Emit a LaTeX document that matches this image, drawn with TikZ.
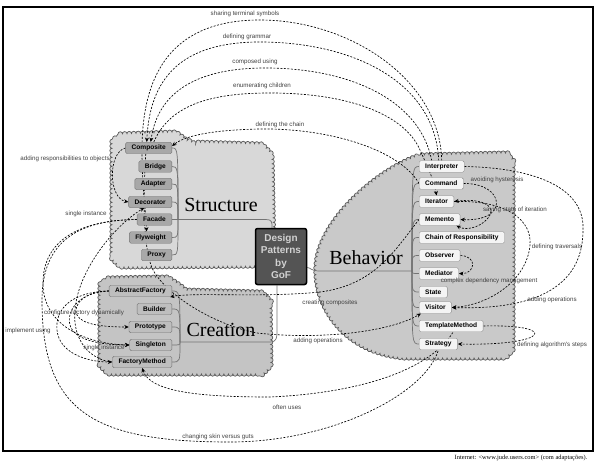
\documentclass[tikz,border=0pt]{standalone}
\usepackage{fontspec}
\setmainfont{Liberation Serif}
\newfontfamily\lsans{Liberation Sans}
\usetikzlibrary{arrows.meta,decorations.pathmorphing}
\pgfdeclarelayer{bg}
\pgfdeclarelayer{mid}
\pgfsetlayers{bg,mid,main}
\definecolor{cloudS}{HTML}{D8D8D8}
\definecolor{cloudC}{HTML}{C4C4C4}
\definecolor{cloudB}{HTML}{C9C9C9}
\definecolor{boxS}{HTML}{A8A8A8}
\definecolor{boxC}{HTML}{BEBEBE}
\definecolor{boxB}{HTML}{F4F4F4}
\begin{document}
\begin{tikzpicture}[x=1pt,y=-1pt,
  conn/.style={draw=black,line width=0.65pt,dash pattern=on 2pt off 1.5pt},
  tip/.style={-{Stealth[length=4.5pt,width=4pt]}},
  rtip/.style={{Stealth[length=4.5pt,width=4pt]}-},
  btip/.style={{Stealth[length=4.5pt,width=4pt]}-{Stealth[length=4.5pt,width=4pt]}},
  trunk/.style={draw=black!55,line width=0.7pt},
  cloudy/.style={draw=black!65,line width=0.7pt,decorate,decoration={bumps,segment length=9pt,amplitude=2.2pt}},
  sbox/.style={draw=black!55,fill=boxS,rounded corners=1.5pt,font=\lsans\bfseries\fontsize{6.6}{7}\selectfont,inner xsep=6pt,inner ysep=1pt,minimum height=11.5pt},
  cbox/.style={sbox,fill=boxC},
  bbox/.style={sbox,fill=boxB,draw=black!45},
  lab/.style={font=\lsans\fontsize{6.2}{7}\selectfont,text=black!75,inner sep=0pt},
  big/.style={font=\fontsize{20}{22}\selectfont,inner sep=0pt},
  gofbox/.style={draw=black,line width=1.5pt,fill=black!67,rounded corners=2pt,minimum width=51pt,minimum height=56pt,align=center,text=black!18,font=\lsans\bfseries\fontsize{10}{12.6}\selectfont,inner sep=1pt}
]
\useasboundingbox (0,0) rectangle (599,465);
\begin{pgfonlayer}{bg}
\draw[line width=1.1pt] (3,7) rectangle (593,451);
\path[cloudy,fill=cloudS] (118,134) -- (176,132) -- (184,138) -- (192,142) -- (262,144) -- (272,154) -- (274,258) -- (266,266) -- (120,267) -- (112,259) -- (112,142) -- cycle;
\path[cloudy,fill=cloudC] (106,278) -- (168,277) -- (180,285) -- (186,290) -- (262,292) -- (270,300) -- (271,366) -- (263,374) -- (108,374) -- (100,366) -- (100,286) -- cycle;
\path[cloudy,fill=cloudB] (420,155) -- (506,153) -- (513,160) -- (513,350) -- (506,358) -- (405,358) .. controls (335,352) and (310,295) .. (317,258) .. controls (325,215) and (380,168) .. (420,155) -- cycle;
\end{pgfonlayer}

% Structure boxes
\node[sbox,anchor=east] (comp) at (172,148) {Composite};
\node[sbox,anchor=east] (bridge) at (172,166.5) {Bridge};
\node[sbox,anchor=east] (adapt) at (172,184) {Adapter};
\node[sbox,anchor=east] (deco) at (172,202) {Decorator};
\node[sbox,anchor=east] (facade) at (172,219.5) {Facade};
\node[sbox,anchor=east] (fly) at (172,237.5) {Flyweight};
\node[sbox,anchor=east] (proxy) at (172,255) {Proxy};
% Creation boxes
\node[cbox,anchor=east] (af) at (172,291) {AbstractFactory};
\node[cbox,anchor=east] (builder) at (172,309) {Builder};
\node[cbox,anchor=east] (proto) at (172,327) {Prototype};
\node[cbox,anchor=east] (single) at (172,345) {Singleton};
\node[cbox,anchor=east] (fm) at (172,362) {FactoryMethod};
% Behavior boxes
\node[bbox,anchor=west] (interp) at (419,166.5) {Interpreter};
\node[bbox,anchor=west] (command) at (419,183.5) {Command};
\node[bbox,anchor=west] (iter) at (419,201.5) {Iterator};
\node[bbox,anchor=west] (memento) at (419,219.5) {Memento};
\node[bbox,anchor=west] (chain) at (419,237.5) {Chain of Responsibility};
\node[bbox,anchor=west] (observer) at (419,255.5) {Observer};
\node[bbox,anchor=west] (mediator) at (419,273.5) {Mediator};
\node[bbox,anchor=west] (state) at (419,292) {State};
\node[bbox,anchor=west] (visitor) at (419,307.5) {Visitor};
\node[bbox,anchor=west] (tm) at (419,326) {TemplateMethod};
\node[bbox,anchor=west] (strategy) at (419,344) {Strategy};

% big titles
\node[big] (tS) at (221,205) {Structure};
\node[big] (tC) at (221,330) {Creation};
\node[big] (tB) at (366,258) {Behavior};
\node[gofbox] (gof) at (281,256.5) {Design\\Patterns\\by\\GoF};

% junctions
\coordinate (sj) at (178,219.5);
\coordinate (cj) at (180,342);
\coordinate (bj) at (412,271);

% labels
\node[lab] (l1) at (245,14) {sharing terminal symbols};
\node[lab] (l2) at (247,37) {defining grammar};
\node[lab] (l3) at (255,62) {composed using};
\node[lab] (l4) at (262,86) {enumerating children};
\node[lab] (l5) at (280,125) {defining the chain};
\node[lab] (l6) at (65,159) {adding responsibilities to objects};
\node[lab] (l7) at (86,214) {single instance};
\node[lab] (l8) at (84,313) {configure factory dynamically};
\node[lab] (l9) at (28,331) {implement using};
\node[lab] (l10) at (104,348) {single instance};
\node[lab] (l11) at (287,407) {often uses};
\node[lab] (l12) at (218,437) {changing skin versus guts};
\node[lab] (l13) at (330,303) {creating composites};
\node[lab] (l14) at (318,341) {adding operations};
\node[lab] (l15) at (497,180) {avoiding hysteresis};
\node[lab] (l16) at (515,210) {saving state of iteration};
\node[lab] (l17) at (557,247) {defining traversals};
\node[lab] (l18) at (489,281) {complex dependency management};
\node[lab] (l19) at (552,300) {adding operations};
\node[lab] (l20) at (552,345) {defining algorithm's steps};
\node[font=\fontsize{6.4}{7}\selectfont,inner sep=0pt] (cap) at (521,458) {Internet: <www.jude.users.com> (com adaptações).};

\begin{pgfonlayer}{mid}
% trunks
\foreach \n in {comp,bridge,adapt,deco,fly,proxy}
  \draw[trunk] (\n.east) .. controls (\n.east -| sj) and (\n.east -| sj) .. (sj);
\draw[trunk] (facade.east) -- (sj);
\foreach \n in {af,builder,proto,single,fm}
  \draw[trunk] (\n.east) .. controls (\n.east -| cj) and (\n.east -| cj) .. (cj);
\foreach \n in {interp,command,iter,memento,chain,observer,mediator,state,visitor,tm,strategy}
  \draw[trunk] (\n.west) .. controls (\n.west -| bj) and (\n.west -| bj) .. (bj);
\draw[trunk] (sj) -- (266,219.5) .. controls (272,219.5) and (272,222) .. ([xshift=-9pt]gof.north);
\draw[trunk] (cj) -- (270,342) .. controls (277,342) and (277,337) .. (277,331) -- ([xshift=-4pt]gof.south);
\draw[trunk] (bj) -- (318,271) .. controls (312,271) and (310,267.5) .. ([yshift=-11pt]gof.east);

% top arcs
\draw[conn,tip] (interp.north) .. controls (440,80) and (350,20) .. (260,20) .. controls (175,20) and (142,70) .. (142,150) .. controls (142,190) and (146,212) .. ([xshift=-4pt]fly.north);
\draw[conn,tip] ([xshift=-3pt]interp.north) .. controls (435,80) and (350,42) .. (260,42) .. controls (190,42) and (150,70) .. ([xshift=-2pt]comp.north);
\draw[conn,tip] ([xshift=-10pt]interp.north) .. controls (420,100) and (350,68) .. (265,68) .. controls (200,68) and (158,90) .. ([xshift=2pt]comp.north);
\draw[conn,tip] ([xshift=5pt]comp.north) .. controls (170,105) and (210,93) .. (270,93) .. controls (350,93) and (405,115) .. (420,150) .. controls (428,168) and (434,180) .. (iter.north);
\draw[conn,tip] (command.west) .. controls (400,150) and (330,128) .. (260,129) .. controls (210,130) and (185,136) .. ([yshift=2pt]comp.east);

% structure / creation left side
\draw[conn,tip] (comp.west) .. controls (108,152) and (108,198) .. (deco.west);
\draw[conn] (facade.west) .. controls (80,220) and (42,240) .. (42,300) .. controls (42,410) and (90,442) .. (230,442) .. controls (330,442) and (425,395) .. (strategy.south);
\draw[conn,tip] (facade.west) .. controls (80,220) and (42,240) .. (43,285) .. controls (44,325) and (85,344) .. (single.west);
\draw[conn,tip] (fm.west) .. controls (90,360) and (72,340) .. (75,310) .. controls (78,270) and (115,225) .. ([xshift=-6pt]deco.south);
\draw[conn,tip] (af.west) .. controls (85,291) and (72,305) .. (77,315) .. controls (82,325) and (105,327) .. (proto.west);
\draw[conn,tip] (af.west) .. controls (80,292) and (66,310) .. (70,325) .. controls (74,340) and (100,345) .. (single.west);
\draw[conn,tip] (af.west) .. controls (70,292) and (55,310) .. (57,330) .. controls (59,352) and (85,362) .. (fm.west);
\draw[conn,rtip] (fm.south) .. controls (150,392) and (200,397) .. (270,397) .. controls (360,393) and (430,370) .. ([xshift=2pt]tm.south);
\draw[conn,tip] ([xshift=-3pt]comp.south) .. controls (143,200) and (143,245) .. (152,268) .. controls (165,295) and (215,325) .. (257,333) .. controls (320,340) and (390,332) .. ([xshift=2pt]visitor.south west);
\draw[conn,tip] (memento.west) .. controls (395,250) and (375,285) .. (320,292) .. controls (260,298) and (195,292) .. ([xshift=-2pt]af.south east);

% behavior right side
\draw[conn,tip] (command.east) .. controls (505,183) and (510,222) .. (memento.east);
\draw[conn,btip] (iter.east) .. controls (480,198) and (495,205) .. (490,215) .. controls (485,225) and (468,232) .. ([xshift=-4pt]memento.south east);
\draw[conn,tip] (iter.east) .. controls (510,200) and (532,222) .. (530,245) .. controls (527,280) and (490,305) .. (visitor.east);
\draw[conn,tip] (interp.east) .. controls (540,168) and (585,190) .. (583,230) .. controls (583,290) and (530,310) .. (visitor.east);
\draw[conn,tip] (observer.east) .. controls (478,256) and (475,274) .. (mediator.east);
\draw[conn,tip] (tm.east) .. controls (560,324) and (550,346) .. (strategy.east);
\end{pgfonlayer}
\end{tikzpicture}
\end{document}
